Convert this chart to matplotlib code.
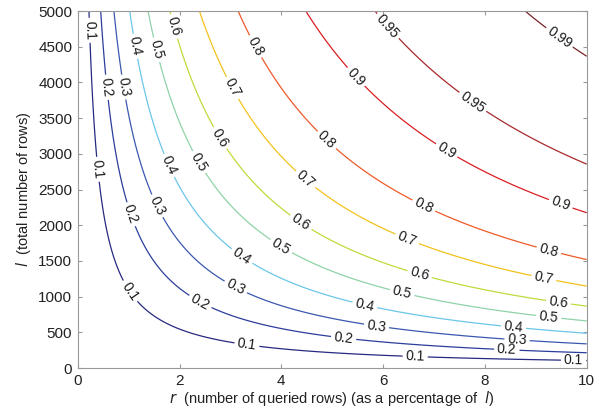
import numpy as np
from matplotlib import pyplot as plt

plt.rcParams['font.family'] = ['Liberation Sans', 'DejaVu Sans']

# contour levels and where each contour meets the top edge (l = 5000)
levels = [0.1, 0.2, 0.3, 0.4, 0.5, 0.6, 0.7, 0.8, 0.9, 0.95, 0.99]
level_labels = ['0.1', '0.2', '0.3', '0.4', '0.5', '0.6', '0.7', '0.8', '0.9', '0.95', '0.99']
r_at_top = [0.22, 0.45, 0.71, 1.02, 1.38, 1.81, 2.39, 3.15, 4.48, 5.84, 8.79]
l_top = 5000

r_ticks = [0, 2, 4, 6, 8, 10]
l_ticks = [0, 500, 1000, 1500, 2000, 2500, 3000, 3500, 4000, 4500, 5000]

line_colors = ['#262a80', '#2c3d9c', '#3a58b0', '#6cc6e8', '#8fd3a8', '#bcdc3c',
               '#f2c21c', '#ee5a2a', '#dc1e24', '#a8282c', '#7a2428']

# where the inline labels sit
label_spots = [
    (0.22, 4730), (0.35, 2780), (0.96, 1045), (3.32, 308), (6.63, 160), (9.74, 112),
    (0.55, 3930), (0.99, 2140), (2.37, 880), (5.22, 400), (8.43, 250),
    (0.86, 3930), (1.53, 2260), (3.09, 1115), (5.87, 590), (8.63, 390),
    (1.07, 4500), (1.74, 2820), (3.22, 1560), (5.64, 880), (8.56, 555),
    (1.51, 4450), (2.33, 2865), (3.97, 1675), (6.37, 1045), (9.25, 695),
    (1.87, 4780), (2.78, 3215), (4.37, 2025), (6.71, 1300), (9.45, 930),
    (3.02, 3915), (4.46, 2630), (6.46, 1790), (9.15, 1230),
    (3.48, 4500), (4.86, 3170), (6.79, 2260), (9.25, 1630),
    (5.47, 4080), (7.25, 3050), (9.48, 2280),
    (6.04, 4755), (7.74, 3705),
    (9.45, 4615),
]

# contours follow l * -ln(1 - r/100) = const
r = np.linspace(0.01, 10, 400)
l = np.linspace(1, 5000, 400)
R, L = np.meshgrid(r, l)
Q = L * -np.log1p(-R / 100)
q_levels = [l_top * -np.log1p(-v / 100) for v in r_at_top]

fig = plt.figure(figsize=(6.03, 4.08), dpi=100)
ax = fig.add_axes([0.129, 0.098, 0.844, 0.875])

cs = ax.contour(R, L, Q, levels=q_levels, colors=line_colors, linewidths=0.9)
fmt = dict(zip(cs.levels, level_labels))
ax.clabel(cs, fmt=fmt, manual=label_spots, inline=True, inline_spacing=3,
          fontsize=10, colors='#1a1a1a')

ax.set_xlim(0, 10)
ax.set_ylim(0, 5000)
ax.set_xticks(r_ticks)
ax.set_yticks(l_ticks)
ax.tick_params(direction='in', top=True, right=True, length=3, labelsize=11,
               colors='#999999', labelcolor='#222222', pad=4)
for s in ax.spines.values():
    s.set_color('#999999')

ax.set_xlabel(r'$r$  (number of queried rows) (as a percentage of  $l$)', fontsize=10.5,
              color='#222222', labelpad=1)
ax.set_ylabel(r'$l$  (total number of rows)', fontsize=10.5, color='#222222', labelpad=4)

fig.savefig('out.png', dpi=100)
